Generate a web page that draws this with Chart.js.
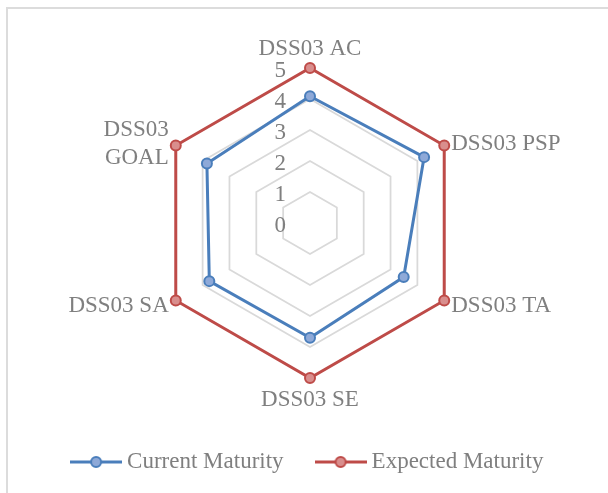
<!DOCTYPE html>
<html>
<head>
<meta charset="utf-8">
<script src="https://cdn.jsdelivr.net/npm/chart.js@4.4.1/dist/chart.umd.min.js"></script>
<style>
  html, body { margin: 0; padding: 0; background: #ffffff; overflow: hidden; }
  #wrap { position: relative; width: 608px; height: 493px; }
  #frame { position: absolute; left: 6px; top: 7px; width: 700px; height: 600px; border: 2px solid #dcdcdc; box-sizing: border-box; }
  #c { position: absolute; left: 0; top: 0; }
</style>
</head>
<body>
<div id="wrap">
  <div id="frame"></div>
  <canvas id="c" width="608" height="493"></canvas>
</div>
<script>
// ---- data ----
const categories = ['DSS03 AC', 'DSS03 PSP', 'DSS03 TA', 'DSS03 SE', 'DSS03 SA', ['DSS03', 'GOAL']];
const currentMaturity = [4.09, 4.25, 3.49, 3.70, 3.75, 3.84];
const expectedMaturity = [5, 5, 5, 5, 5, 5];
const seriesNames = ['Current Maturity', 'Expected Maturity'];
const tickLabels = ['0', '1', '2', '3', '4', '5'];

// ---- styles ----
const FONT = 'Liberation Serif';
const TEXT = '#7f7f7f';
const BLUE = '#4a7ebb', BLUE_FILL = '#8ea9d8';
const RED = '#be4b48', RED_FILL = '#d98e8d';

// label placement relative to outer vertex (style only)
const labelStyle = [
  { align: 'center', dx: 0,  dy: [-12.7] },
  { align: 'left',   dx: 7,  dy: [4.7] },
  { align: 'left',   dx: 7,  dy: [11.7] },
  { align: 'center', dx: 0,  dy: [28.3] },
  { align: 'right',  dx: -7, dy: [11.7] },
  { align: 'right',  dx: -7, dy: [-9.3, 18] }
];

function legendIcon(line, fill) {
  const cv = document.createElement('canvas');
  cv.width = 52; cv.height = 14;
  const g = cv.getContext('2d');
  g.strokeStyle = line; g.lineWidth = 3;
  g.beginPath(); g.moveTo(0, 7); g.lineTo(52, 7); g.stroke();
  g.beginPath(); g.arc(26, 7, 5, 0, Math.PI * 2);
  g.fillStyle = fill; g.fill();
  g.lineWidth = 2; g.stroke();
  return cv;
}
const icons = [legendIcon(BLUE, BLUE_FILL), legendIcon(RED, RED_FILL)];

const labelPlugin = {
  id: 'labelPlugin',
  afterDatasetsDraw(chart) {
    const scale = chart.scales.r;
    const ctx = chart.ctx;
    ctx.save();
    ctx.fillStyle = TEXT;
    ctx.font = '23px "' + FONT + '"';
    ctx.textBaseline = 'alphabetic';
    // point labels
    const outer = scale.getDistanceFromCenterForValue(scale.max);
    categories.forEach((lab, i) => {
      const p = scale.getPointPosition(i, outer);
      const st = labelStyle[i];
      ctx.textAlign = st.align;
      const lines = Array.isArray(lab) ? lab : [lab];
      lines.forEach((t, k) => ctx.fillText(t, p.x + st.dx, p.y + st.dy[k]));
    });
    // tick labels
    ctx.textAlign = 'right';
    scale.ticks.forEach((tk, i) => {
      const d = scale.getDistanceFromCenterForValue(tk.value);
      const p = scale.getPointPosition(0, d);
      ctx.fillText(tickLabels[i] !== undefined ? tickLabels[i] : String(tk.value), p.x - 24, p.y + 9.3);
    });
    ctx.restore();
  }
};

new Chart(document.getElementById('c'), {
  type: 'radar',
  data: {
    labels: categories,
    datasets: [
      {
        label: seriesNames[0],
        data: currentMaturity,
        borderColor: BLUE,
        backgroundColor: 'rgba(0,0,0,0)',
        borderWidth: 3,
        fill: false,
        pointRadius: 5,
        pointHoverRadius: 5,
        pointBackgroundColor: BLUE_FILL,
        pointBorderColor: BLUE,
        pointBorderWidth: 2
      },
      {
        label: seriesNames[1],
        data: expectedMaturity,
        borderColor: RED,
        backgroundColor: 'rgba(0,0,0,0)',
        borderWidth: 3,
        fill: false,
        pointRadius: 5,
        pointHoverRadius: 5,
        pointBackgroundColor: RED_FILL,
        pointBorderColor: RED,
        pointBorderWidth: 2
      }
    ]
  },
  options: {
    responsive: false,
    animation: false,
    devicePixelRatio: 1,
    layout: { padding: { top: 68, left: 12, right: 0, bottom: 9.5 } },
    scales: {
      r: {
        min: 0,
        max: 5,
        beginAtZero: true,
        angleLines: { display: false },
        grid: { color: '#d9d9d9', lineWidth: 1.75 },
        pointLabels: { display: false },
        ticks: { display: false, stepSize: 1, callback: (v, i) => tickLabels[i] }
      }
    },
    plugins: {
      tooltip: { enabled: false },
      legend: {
        position: 'bottom',
        title: { display: true, text: '', padding: { top: 33.8, bottom: 0 }, font: { size: 1 } },
        labels: {
          usePointStyle: true,
          pointStyleWidth: 39,
          padding: 37.5,
          color: TEXT,
          font: { family: FONT, size: 23 },
          generateLabels(chart) {
            const items = Chart.defaults.plugins.legend.labels.generateLabels(chart);
            items.forEach((it, i) => { it.pointStyle = icons[i]; });
            return items;
          }
        }
      }
    }
  },
  plugins: [labelPlugin]
});
</script>
</body>
</html>
